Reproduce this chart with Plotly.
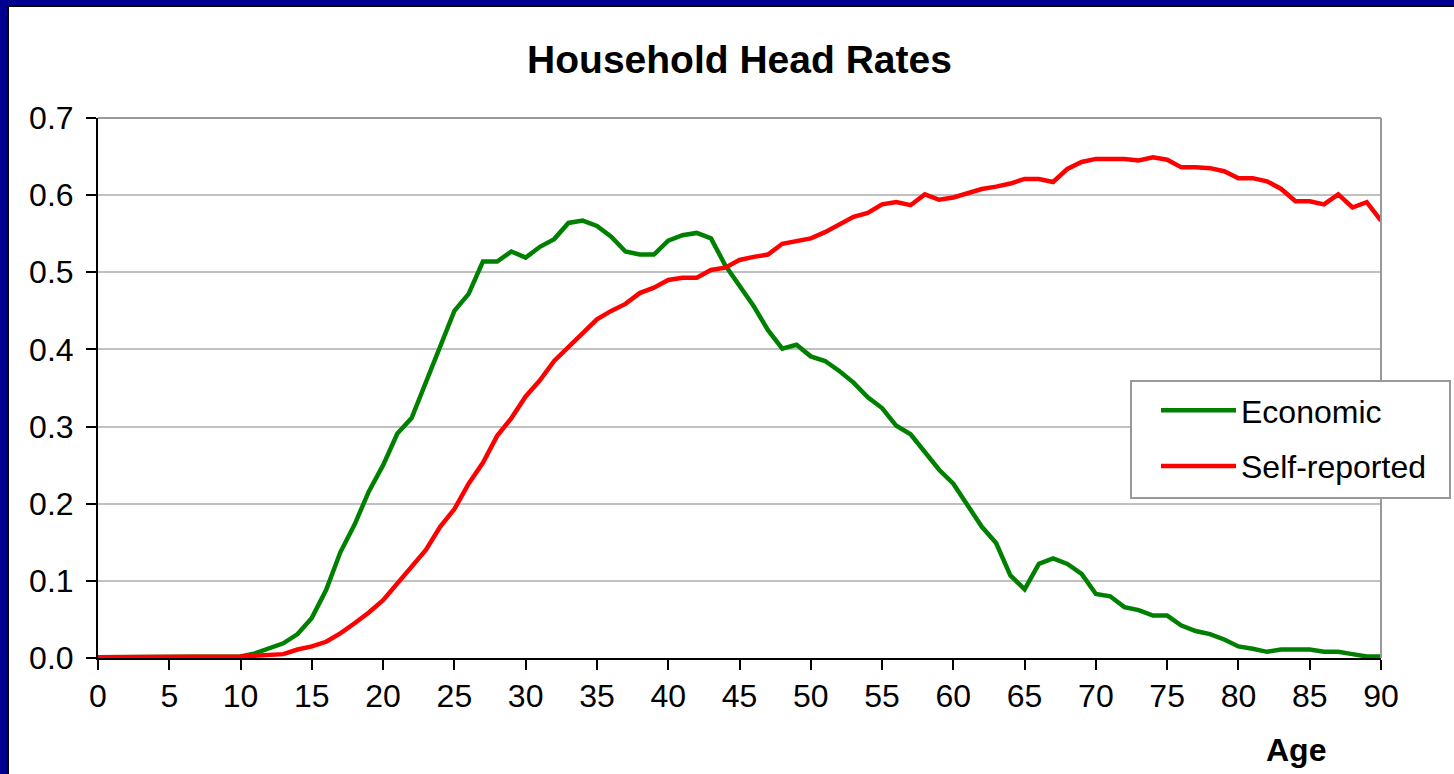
import plotly.graph_objects as go

ages = list(range(0, 91))

economic = [0.001] * 10 + [
    0.002, 0.006, 0.012, 0.019, 0.031, 0.052, 0.088, 0.137, 0.173, 0.216,
    0.250, 0.291, 0.311, 0.358, 0.402, 0.450, 0.472, 0.514, 0.514, 0.527,
    0.519, 0.533, 0.543, 0.564, 0.567, 0.560, 0.546, 0.527, 0.523, 0.523,
    0.541, 0.548, 0.551, 0.544, 0.509, 0.483, 0.456, 0.425, 0.401, 0.406,
    0.391, 0.385, 0.372, 0.357, 0.338, 0.324, 0.301, 0.290, 0.267, 0.244,
    0.226, 0.198, 0.170, 0.149, 0.107, 0.089, 0.122, 0.129, 0.122, 0.109,
    0.083, 0.080, 0.066, 0.062, 0.055, 0.055, 0.042, 0.035, 0.031, 0.024,
    0.015, 0.012, 0.008, 0.011, 0.011, 0.011, 0.008, 0.008, 0.005, 0.002,
    0.002,
]

self_reported = [0.001] * 10 + [
    0.002, 0.003, 0.004, 0.005, 0.011, 0.015, 0.021, 0.032, 0.045, 0.059,
    0.075, 0.097, 0.119, 0.140, 0.170, 0.193, 0.226, 0.253, 0.288, 0.311,
    0.339, 0.360, 0.385, 0.403, 0.423, 0.439, 0.450, 0.459, 0.473, 0.480,
    0.490, 0.493, 0.493, 0.503, 0.506, 0.516, 0.520, 0.523, 0.537, 0.541,
    0.544, 0.552, 0.562, 0.572, 0.577, 0.588, 0.591, 0.587, 0.601, 0.594,
    0.597, 0.602, 0.608, 0.611, 0.615, 0.621, 0.621, 0.617, 0.634, 0.643,
    0.647, 0.647, 0.647, 0.645, 0.649, 0.646, 0.636, 0.636, 0.635, 0.631,
    0.622, 0.622, 0.618, 0.608, 0.592, 0.592, 0.588, 0.601, 0.584, 0.591,
    0.567,
]

series_names = ["Economic", "Self-reported"]
series_colors = ["#008000", "#ff0000"]
x_ticks = list(range(0, 91, 5))

FONT = "Liberation Sans, Arial, sans-serif"
W, H = 1454, 774
ML, MR, MT, MB = 98, 73, 118, 116
PW, PH = W - ML - MR, H - MT - MB


def px_x(p):
    return (p - ML) / PW


def px_y(p):
    return (H - MB - p) / PH


fig = go.Figure()
for i, (name, vals, col) in enumerate(zip(series_names, [economic, self_reported], series_colors)):
    fig.add_trace(go.Scatter(x=ages, y=vals, mode="lines", name=name,
                             legendgroup="g%d" % i,
                             line=dict(color=col, width=4.5)))

fig.update_layout(
    width=W, height=H,
    margin=dict(l=ML, r=MR, t=MT, b=MB, pad=0),
    paper_bgcolor="#000090",
    plot_bgcolor="white",
    font=dict(family=FONT, size=32, color="black"),
    title=dict(text="Household Head Rates", x=0.5, xref="paper", xanchor="center",
               y=1 - 59 / H, yref="container", yanchor="middle",
               font=dict(family=FONT, size=39, color="black", weight="bold")),
    showlegend=True,
    legend=dict(x=px_x(1154), y=px_y(381), xanchor="left", yanchor="top",
                bgcolor="rgba(0,0,0,0)", bordercolor="rgba(0,0,0,0)", borderwidth=2,
                font=dict(family=FONT, size=32, color="black"),
                itemwidth=75, tracegroupgap=11),
    shapes=[
        dict(type="rect", xref="paper", yref="paper", layer="below",
             x0=px_x(8), x1=px_x(1470), y0=px_y(790), y1=px_y(6),
             fillcolor="white", line=dict(color="black", width=2)),
        dict(type="line", xref="paper", yref="paper", layer="above",
             x0=1, x1=1, y0=0, y1=1, line=dict(color="#999999", width=2)),
        dict(type="line", xref="paper", yref="paper", layer="below",
             x0=0, x1=1, y0=1, y1=1, line=dict(color="#999999", width=2)),
        dict(type="rect", xref="paper", yref="paper", layer="above",
             x0=px_x(1131), x1=px_x(1450), y0=px_y(498), y1=px_y(381),
             fillcolor="white", line=dict(color="#999999", width=2)),
    ],
    annotations=[
        dict(text="Age", xref="paper", yref="paper", x=px_x(1296), y=px_y(750),
             xanchor="center", yanchor="middle", showarrow=False,
             font=dict(family=FONT, size=32, color="black", weight="bold")),
    ],
)

fig.update_xaxes(range=[0, 90], tickmode="array", tickvals=x_ticks,
                 ticktext=[str(v) for v in x_ticks],
                 showgrid=False, zeroline=False,
                 showline=True, linecolor="black", linewidth=2,
                 ticks="outside", ticklen=10, tickwidth=2, tickcolor="black",
                 ticklabelstandoff=-1,
                 tickfont=dict(family=FONT, size=32, color="black"))
fig.update_yaxes(range=[0, 0.7], dtick=0.1, tick0=0, tickformat=".1f",
                 showgrid=True, gridcolor="#c0c0c0", gridwidth=2, zeroline=False,
                 showline=True, linecolor="black", linewidth=2,
                 ticks="outside", ticklen=10, tickwidth=2, tickcolor="black",
                 ticklabelstandoff=6,
                 tickfont=dict(family=FONT, size=32, color="black"))

fig.write_html("out.html", config={"displayModeBar": False},
               post_script="document.body.style.margin='0';")
